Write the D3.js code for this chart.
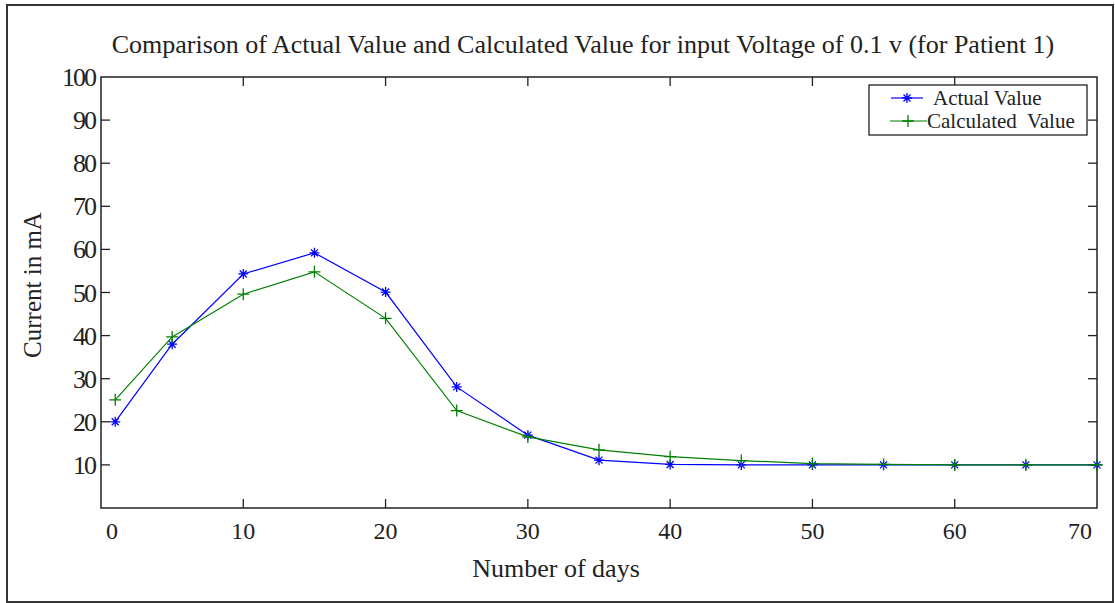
<!DOCTYPE html>
<html>
<head>
<meta charset="utf-8">
<script src="https://cdn.jsdelivr.net/npm/d3@7"></script>
<style>
  body { margin: 0; background: #fff; }
  svg { display: block; font-family: "Liberation Serif", "DejaVu Serif", serif; }
</style>
</head>
<body>
<svg width="1115" height="603"></svg>
<script>
// data
const days = [1, 5, 10, 15, 20, 25, 30, 35, 40, 45, 50, 55, 60, 65, 70];
const actualValues = [20, 38, 54.3, 59.2, 50.1, 28.1, 16.9, 11.1, 10.1, 10, 10, 10, 10, 10, 10];
const calculatedValues = [25.1, 39.7, 49.6, 54.8, 44, 22.6, 16.5, 13.5, 11.9, 11, 10.3, 10.1, 10, 10, 10];
const xTicks = [0, 10, 20, 30, 40, 50, 60, 70];
const yTicks = [10, 20, 30, 40, 50, 60, 70, 80, 90, 100];
const seriesNames = ["Actual Value", "Calculated  Value"];

const svg = d3.select("svg");

// outer frame
svg.append("rect")
    .attr("x", 7).attr("y", 5)
    .attr("width", 1106).attr("height", 597)
    .attr("fill", "none")
    .attr("stroke", "#333")
    .attr("stroke-width", 2);

const x = d3.scaleLinear().domain([0, 70]).range([101, 1097]);
const y = d3.scaleLinear().domain([0, 100]).range([508, 77]);

// title
svg.append("text")
    .attr("x", 583).attr("y", 53)
    .attr("text-anchor", "middle")
    .style("font-size", "26px")
    .attr("fill", "#222")
    .text("Comparison of Actual Value and Calculated Value for input Voltage of 0.1 v (for Patient 1)");

// box
svg.append("rect")
    .attr("x", 101).attr("y", 77)
    .attr("width", 996).attr("height", 431)
    .attr("fill", "none")
    .attr("stroke", "#222")
    .attr("stroke-width", 1.5);

const innerX = xTicks.filter(d => d > 0 && d < 70);
const innerY = yTicks.filter(d => d < 100);

// ticks inside (bottom/top, left/right)
const tickG = svg.append("g").attr("stroke", "#222").attr("stroke-width", 1.3);
innerX.forEach(d => {
    tickG.append("line").attr("x1", x(d)).attr("x2", x(d)).attr("y1", 508).attr("y2", 499);
    tickG.append("line").attr("x1", x(d)).attr("x2", x(d)).attr("y1", 77).attr("y2", 86);
});
innerY.forEach(d => {
    tickG.append("line").attr("x1", 101).attr("x2", 110).attr("y1", y(d)).attr("y2", y(d));
    tickG.append("line").attr("x1", 1097).attr("x2", 1088).attr("y1", y(d)).attr("y2", y(d));
});

// tick labels
const xNudge = { 0: 11, 70: -17 };
svg.append("g").selectAll("text")
    .data(xTicks)
    .join("text")
    .attr("x", d => x(d) + (xNudge[d] || 0))
    .attr("y", 539)
    .attr("text-anchor", "middle")
    .style("font-size", "24px")
    .attr("fill", "#222")
    .text(d => d);

svg.append("g").selectAll("text")
    .data(yTicks)
    .join("text")
    .attr("x", 95)
    .attr("y", d => y(d) + 9)
    .attr("text-anchor", "end")
    .attr("letter-spacing", "-2")
    .style("font-size", "26px")
    .attr("fill", "#222")
    .text(d => d);

// axis titles
svg.append("text")
    .attr("x", 556).attr("y", 577)
    .attr("text-anchor", "middle")
    .style("font-size", "26px")
    .attr("fill", "#222")
    .text("Number of days");

svg.append("text")
    .attr("transform", "translate(41,285) rotate(-90)")
    .attr("text-anchor", "middle")
    .style("font-size", "25px")
    .attr("fill", "#222")
    .text("Current in mA");

// lines
const line = d3.line().x(d => x(d[0])).y(d => y(d[1]));
const actual = days.map((d, i) => [d, actualValues[i]]);
const calculated = days.map((d, i) => [d, calculatedValues[i]]);

function starMarker(g, cx, cy, color) {
    const r = 5;
    g.append("path")
        .attr("d", `M${cx - r},${cy}H${cx + r}M${cx},${cy - r}V${cy + r}` +
            `M${cx - r * 0.7},${cy - r * 0.7}L${cx + r * 0.7},${cy + r * 0.7}` +
            `M${cx - r * 0.7},${cy + r * 0.7}L${cx + r * 0.7},${cy - r * 0.7}`)
        .attr("stroke", color).attr("stroke-width", 1.3).attr("fill", "none");
}
function plusMarker(g, cx, cy, color) {
    const r = 6;
    g.append("path")
        .attr("d", `M${cx - r},${cy}H${cx + r}M${cx},${cy - r}V${cy + r}`)
        .attr("stroke", color).attr("stroke-width", 1.3).attr("fill", "none");
}

const plot = svg.append("g");
plot.append("path").datum(actual)
    .attr("d", line).attr("fill", "none").attr("stroke", "#0000ff").attr("stroke-width", 1.2);
actual.forEach(d => starMarker(plot, x(d[0]), y(d[1]), "#0000ff"));

plot.append("path").datum(calculated)
    .attr("d", line).attr("fill", "none").attr("stroke", "#008000").attr("stroke-width", 1.2);
calculated.forEach(d => plusMarker(plot, x(d[0]), y(d[1]), "#008000"));

// legend
const leg = svg.append("g");
leg.append("rect")
    .attr("x", 869).attr("y", 85)
    .attr("width", 218).attr("height", 50)
    .attr("fill", "#fff").attr("stroke", "#222").attr("stroke-width", 1.3);
leg.append("line").attr("x1", 891).attr("x2", 923).attr("y1", 98).attr("y2", 98)
    .attr("stroke", "#0000ff").attr("stroke-width", 1.2);
starMarker(leg, 907, 98, "#0000ff");
leg.append("line").attr("x1", 890).attr("x2", 927).attr("y1", 121).attr("y2", 121)
    .attr("stroke", "#008000").attr("stroke-width", 1.2);
plusMarker(leg, 908, 121, "#008000");
leg.append("text").attr("x", 933).attr("y", 105)
    .style("font-size", "21px").attr("fill", "#222").text(seriesNames[0]);
leg.append("text").attr("x", 927).attr("y", 128)
    .style("font-size", "21px").attr("fill", "#222").attr("xml:space", "preserve").text(seriesNames[1]);
</script>
</body>
</html>
